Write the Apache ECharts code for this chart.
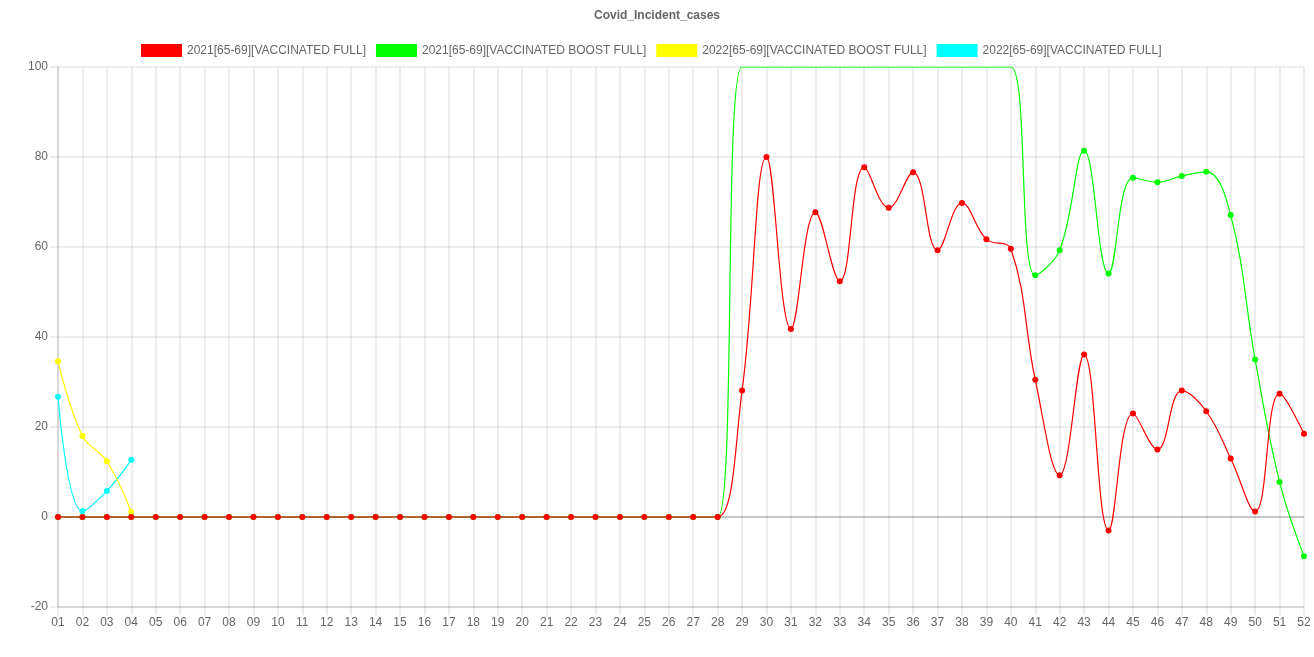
<!DOCTYPE html>
<html>
<head>
<meta charset="utf-8">
<script src="https://cdn.jsdelivr.net/npm/echarts@6/dist/echarts.min.js"></script>
<style>html,body{margin:0;padding:0;background:#fff}#c{width:1314px;height:657px}</style>
</head>
<body>
<div id="c"></div>
<script>
const weeks = ['01','02','03','04','05','06','07','08','09','10','11','12','13','14','15','16','17','18','19','20','21','22','23','24','25','26','27','28','29','30','31','32','33','34','35','36','37','38','39','40','41','42','43','44','45','46','47','48','49','50','51','52'];
const yTicks = [-20, 0, 20, 40, 60, 80, 100];
const seriesNames = ['2021[65-69][VACCINATED FULL]', '2021[65-69][VACCINATED BOOST FULL]', '2022[65-69][VACCINATED BOOST FULL]', '2022[65-69][VACCINATED FULL]'];
const full2021 = [0,0,0,0,0,0,0,0,0,0,0,0,0,0,0,0,0,0,0,0,0,0,0,0,0,0,0,0,28.1,80.0,41.8,67.7,52.4,77.7,68.7,76.6,59.3,69.8,61.7,59.6,30.5,9.3,36.1,-3.0,23.0,15.0,28.1,23.5,13.0,1.2,27.4,18.5];
const boost2021 = [0,0,0,0,0,0,0,0,0,0,0,0,0,0,0,0,0,0,0,0,0,0,0,0,0,0,0,0,100,100,100,100,100,100,100,100,100,100,100,100,53.7,59.3,81.4,54.1,75.4,74.4,75.8,76.7,67.1,35.0,7.8,-8.7];
const boost2022 = [34.6,18.0,12.4,1.1];
const full2022 = [26.7,1.3,5.8,12.7];
const colors = ['#ff0000', '#00ff00', '#ffff00', '#00ffff'];

const font = "'Liberation Sans', Arial, sans-serif";
const gridColor = 'rgba(0,0,0,0.07)';
const chart = echarts.init(document.getElementById('c'));
const dataArr = [full2021, boost2021, boost2022, full2022];
const zs = [5, 4, 3, 2];
const series = dataArr.map((d, i) => ({
  name: seriesNames[i],
  type: 'line',
  data: d,
  smooth: 0.4,
  symbol: 'circle',
  symbolSize: (v) => (v >= 100 ? 0 : 6),
  showSymbol: true,
  z: zs[i],
  itemStyle: { color: colors[i] },
  lineStyle: { color: colors[i], width: 1.2 },
  emphasis: { disabled: true },
  animation: false
}));
series.push({
  type: 'line', data: [], silent: true, z: 1,
  markLine: { silent: true, symbol: 'none', label: { show: false }, animation: false,
    lineStyle: { color: 'rgba(0,0,0,0.22)', width: 1.5, type: 'solid' },
    data: [{ yAxis: 0 }] }
});
chart.setOption({
  animation: false,
  backgroundColor: '#fff',
  title: { text: 'Covid_Incident_cases', left: 'center', top: 5,
    textStyle: { fontFamily: font, fontSize: 12, fontWeight: 'bold', color: '#666' } },
  legend: {
    top: 39, left: 136, itemWidth: 41, itemHeight: 13, itemGap: 10, icon: 'rect',
    data: seriesNames,
    textStyle: { fontFamily: font, fontSize: 12, color: '#666' }
  },
  grid: { left: 58, right: 10, top: 67, bottom: 50, containLabel: false },
  xAxis: {
    type: 'category', data: weeks, boundaryGap: false,
    axisLine: { onZero: false, lineStyle: { color: 'rgba(0,0,0,0.12)', width: 1.5 } },
    axisTick: { show: true, length: 8, alignWithLabel: true, lineStyle: { color: gridColor, width: 2 } },
    axisLabel: { fontFamily: font, fontSize: 12, color: '#666', margin: 10, interval: 0 },
    splitLine: { show: true, lineStyle: { color: gridColor, width: 2 } }
  },
  yAxis: {
    type: 'value', min: yTicks[0], max: yTicks[yTicks.length - 1], interval: 20,
    axisLine: { show: true, lineStyle: { color: 'rgba(0,0,0,0.12)', width: 1.5 } },
    axisTick: { show: true, length: 8, lineStyle: { color: gridColor, width: 2 } },
    axisLabel: { fontFamily: font, fontSize: 12, color: '#666', margin: 10 },
    splitLine: { show: true, lineStyle: { color: gridColor, width: 2 } }
  },
  series: series
});
</script>
</body>
</html>
